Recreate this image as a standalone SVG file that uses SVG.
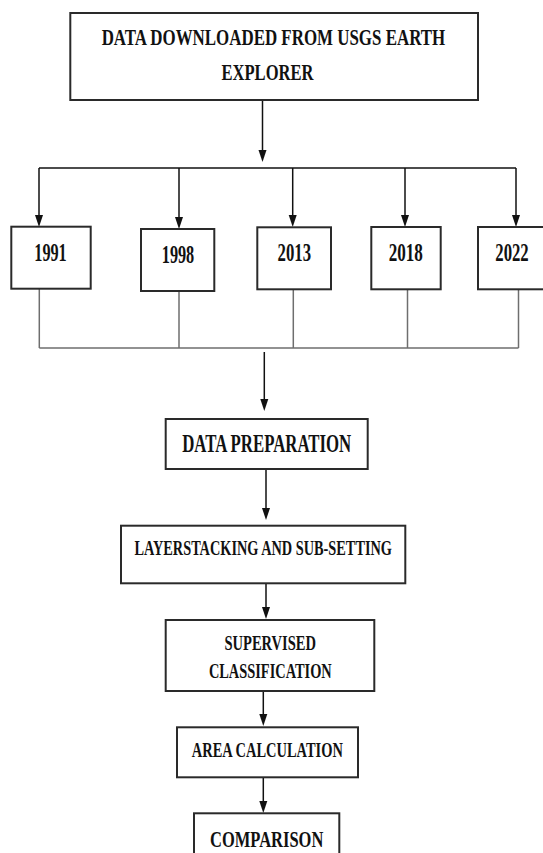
<svg xmlns="http://www.w3.org/2000/svg" width="543" height="853" viewBox="0 0 543 853">
<style>
  .box { fill: #ffffff; stroke: #2a2a2a; stroke-width: 2; }
  .t { font-family: "Liberation Serif", "Times New Roman", serif; font-weight: bold; fill: #111; text-anchor: middle; }
  .ln { stroke: #111; stroke-width: 1.5; fill: none; }
  .gl { stroke: #6e6e6e; stroke-width: 1.5; fill: none; }
  .ah { fill: #111; }
</style>
<rect width="543" height="853" fill="#ffffff"/>

<g id="connectors">
  <line class="ln" x1="262.5" y1="100" x2="262.5" y2="150"/>
  <path class="ah" d="M258.5,150 L266.5,150 L262.5,162 Z"/>
  <line class="ln" x1="39" y1="168" x2="516" y2="168"/>
  <line class="ln" x1="39" y1="168" x2="39" y2="216"/>
  <path class="ah" d="M35,215 L43,215 L39,227 Z"/>
  <line class="ln" x1="179" y1="168" x2="179" y2="218"/>
  <path class="ah" d="M175,217 L183,217 L179,229 Z"/>
  <line class="ln" x1="292.7" y1="168" x2="292.7" y2="216"/>
  <path class="ah" d="M288.7,215 L296.7,215 L292.7,227 Z"/>
  <line class="ln" x1="405" y1="168" x2="405" y2="216"/>
  <path class="ah" d="M401,215 L409,215 L405,227 Z"/>
  <line class="ln" x1="516" y1="168" x2="516" y2="216"/>
  <path class="ah" d="M512,215 L520,215 L516,227 Z"/>

  <line class="gl" x1="39.3" y1="289" x2="39.3" y2="348"/>
  <line class="gl" x1="179" y1="291" x2="179" y2="348"/>
  <line class="gl" x1="293.3" y1="289" x2="293.3" y2="348"/>
  <line class="gl" x1="407.5" y1="289" x2="407.5" y2="348"/>
  <line class="gl" x1="518.5" y1="289" x2="518.5" y2="348"/>
  <line class="gl" x1="39.3" y1="348" x2="518.5" y2="348"/>

  <line class="ln" x1="264.3" y1="352" x2="264.3" y2="400"/>
  <path class="ah" d="M260.3,399 L268.3,399 L264.3,411 Z"/>
  <line class="ln" x1="266" y1="469" x2="266" y2="509"/>
  <path class="ah" d="M262,508 L270,508 L266,520 Z"/>
  <line class="ln" x1="266" y1="583.3" x2="266" y2="608"/>
  <path class="ah" d="M262,607 L270,607 L266,619 Z"/>
  <line class="ln" x1="263.3" y1="691" x2="263.3" y2="715"/>
  <path class="ah" d="M259.3,714 L267.3,714 L263.3,726 Z"/>
  <line class="ln" x1="263.3" y1="777.3" x2="263.3" y2="802"/>
  <path class="ah" d="M259.3,801 L267.3,801 L263.3,813 Z"/>
</g>

<g id="source">
  <rect class="box" x="70.3" y="13" width="407.7" height="87"/>
  <text class="t" font-size="24" transform="translate(273.4,45) scale(0.705,1)">DATA DOWNLOADED FROM USGS EARTH</text>
  <text class="t" font-size="24" transform="translate(267.5,80) scale(0.69,1)">EXPLORER</text>
</g>

<g id="y1991">
  <rect class="box" x="11.3" y="226.7" width="79.4" height="62"/>
  <text class="t" font-size="25" transform="translate(50.5,261) scale(0.65,1)">1991</text>
</g>
<g id="y1998">
  <rect class="box" x="141" y="229" width="73.3" height="62"/>
  <text class="t" font-size="25" transform="translate(178,262.5) scale(0.65,1)">1998</text>
</g>
<g id="y2013">
  <rect class="box" x="257.3" y="227.3" width="73.7" height="62"/>
  <text class="t" font-size="25" transform="translate(294.3,260.5) scale(0.67,1)">2013</text>
</g>
<g id="y2018">
  <rect class="box" x="371.3" y="227" width="69.4" height="62.3"/>
  <text class="t" font-size="25" transform="translate(405.8,261) scale(0.685,1)">2018</text>
</g>
<g id="y2022">
  <rect class="box" x="478" y="227" width="70" height="62.3"/>
  <text class="t" font-size="25" transform="translate(512,261) scale(0.67,1)">2022</text>
</g>

<g id="prep">
  <rect class="box" x="165.7" y="419" width="202" height="50"/>
  <text class="t" font-size="26" transform="translate(266.7,451.7) scale(0.646,1)">DATA PREPARATION</text>
</g>
<g id="layer">
  <rect class="box" x="121" y="525.7" width="284.3" height="57.6"/>
  <text class="t" font-size="20" transform="translate(263.2,555) scale(0.716,1)">LAYERSTACKING AND SUB-SETTING</text>
</g>
<g id="supervised">
  <rect class="box" x="165.7" y="620" width="208.6" height="71"/>
  <text class="t" font-size="20" transform="translate(270.2,650) scale(0.726,1)">SUPERVISED</text>
  <text class="t" font-size="20" transform="translate(270.3,678.3) scale(0.72,1)">CLASSIFICATION</text>
</g>
<g id="area">
  <rect class="box" x="177" y="727.3" width="181" height="50"/>
  <text class="t" font-size="20" transform="translate(267.3,756.7) scale(0.723,1)">AREA CALCULATION</text>
</g>
<g id="comparison">
  <rect class="box" x="194" y="813.3" width="145.3" height="50"/>
  <text class="t" font-size="24" transform="translate(266.7,847) scale(0.688,1)">COMPARISON</text>
</g>
</svg>
